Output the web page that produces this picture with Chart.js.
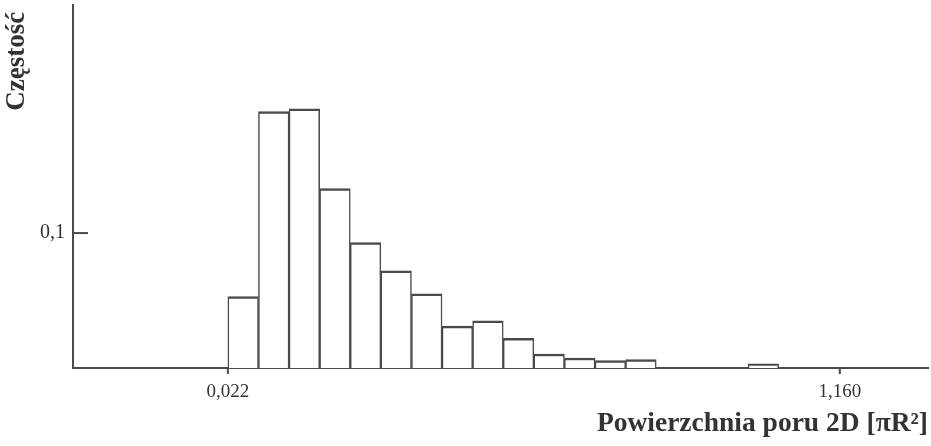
<!DOCTYPE html>
<html>
<head>
<meta charset="utf-8">
<script src="https://cdn.jsdelivr.net/npm/chart.js@4/dist/chart.umd.min.js"></script>
<style>
  html, body { margin: 0; padding: 0; background: #fff; }
</style>
</head>
<body>
<canvas id="histChart" width="931" height="446"></canvas>
<script>
// histogram bins: 20 equal bins between 0,022 and 1,160
const binFrom = 0.022;
const binTo = 1.160;
const frequencies = [0.053, 0.190, 0.192, 0.133, 0.093, 0.072, 0.055, 0.031, 0.035, 0.022,
                     0.0104, 0.0074, 0.0055, 0.0063, 0, 0, 0, 0.003, 0, 0];
const xTicks = [0.022, 1.160];
const yTicks = [0.1];
const xMin = -0.266;
const xMax = 1.324;
const yMax = 0.269;

const binWidth = (binTo - binFrom) / frequencies.length;
const ink = '#4a4a4a';
const fmt = v => String(v).replace('.', ',');

// small tick marks: inward on y, downward on x
const tickMarks = {
  id: 'tickMarks',
  afterDraw(chart) {
    const { ctx, scales: { x, y }, chartArea } = chart;
    ctx.save();
    ctx.strokeStyle = ink;
    ctx.lineWidth = 2;
    yTicks.forEach(v => {
      const py = y.getPixelForValue(v);
      ctx.beginPath(); ctx.moveTo(chartArea.left, py); ctx.lineTo(chartArea.left + 15, py); ctx.stroke();
    });
    xTicks.forEach(v => {
      const px = x.getPixelForValue(v);
      ctx.beginPath(); ctx.moveTo(px, chartArea.bottom); ctx.lineTo(px, chartArea.bottom + 6); ctx.stroke();
    });
    ctx.restore();
  }
};

new Chart(document.getElementById('histChart'), {
  type: 'bar',
  data: {
    datasets: [{
      data: frequencies.map((f, i) => ({ x: binFrom + (i + 0.5) * binWidth, y: f })),
      backgroundColor: '#fff',
      borderColor: ink,
      borderWidth: { top: 2.5, left: 1.5, right: 1.5, bottom: 0 },
      barPercentage: 1,
      categoryPercentage: 1
    }]
  },
  options: {
    responsive: false,
    animation: false,
    layout: { padding: { top: 5, right: 3, left: 0, bottom: 0 } },
    plugins: { legend: { display: false }, tooltip: { enabled: false } },
    scales: {
      x: {
        type: 'linear',
        min: xMin,
        max: xMax,
        offset: false,
        afterBuildTicks: s => { s.ticks = xTicks.map(v => ({ value: v })); },
        afterFit: s => { s.height = 78; s.paddingLeft = 0; s.paddingRight = 0; },
        grid: { display: false, drawTicks: false },
        border: { color: ink, width: 2 },
        ticks: {
          autoSkip: false, maxRotation: 0, padding: 13, color: '#333',
          font: { family: 'Liberation Serif', size: 19 },
          callback: v => fmt(v.toFixed(3))
        },
        title: {
          display: true, text: 'Powierzchnia poru 2D [πR²]', align: 'end', color: '#333',
          font: { family: 'Liberation Serif', size: 27.5, weight: 'bold' },
          padding: { top: 0, bottom: 6 }
        }
      },
      y: {
        min: 0,
        max: yMax,
        afterBuildTicks: s => { s.ticks = yTicks.map(v => ({ value: v })); },
        afterFit: s => { s.width = 73; s.paddingTop = 0; s.paddingBottom = 0; },
        grid: { display: false, drawTicks: false },
        border: { color: ink, width: 2 },
        ticks: {
          padding: 8, color: '#333',
          font: { family: 'Liberation Serif', size: 20 },
          callback: v => fmt(v)
        },
        title: {
          display: true, text: 'Częstość ', align: 'end', color: '#333',
          font: { family: 'Liberation Serif', size: 27, weight: 'bold' },
          padding: { top: 1, bottom: 0 }
        }
      }
    }
  },
  plugins: [tickMarks]
});
</script>
</body>
</html>
